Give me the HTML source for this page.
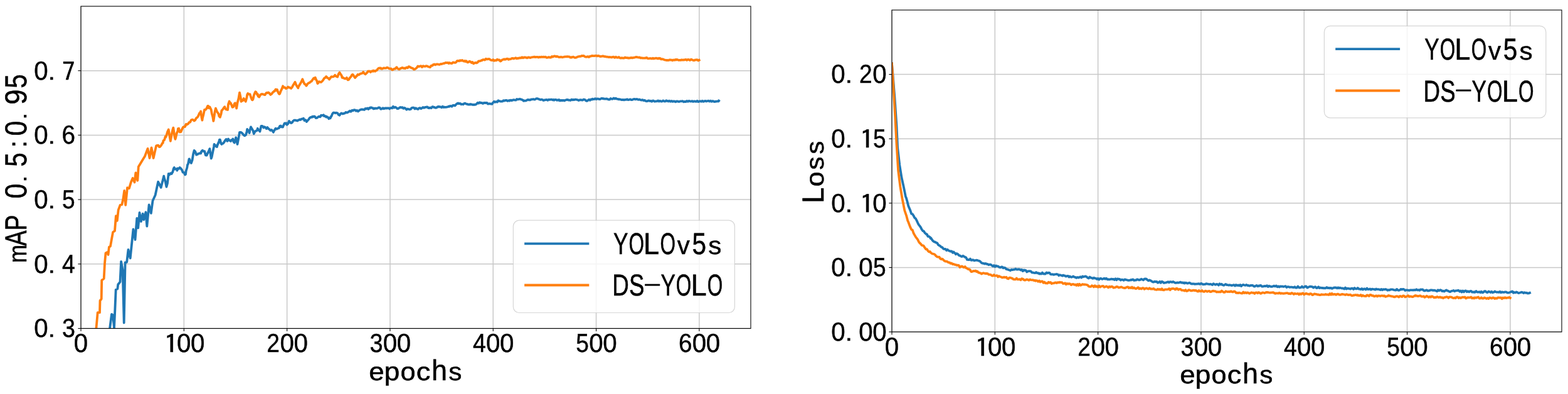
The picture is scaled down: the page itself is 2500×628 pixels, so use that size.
<!DOCTYPE html>
<html><head><meta charset="utf-8"><title>mAP and Loss curves</title>
<style>
html,body{margin:0;padding:0;background:#fff;}
body{width:2500px;height:628px;overflow:hidden;}
svg{display:block;}
.t text{font-family:"Liberation Sans","Noto Sans CJK SC",sans-serif;fill:#000;stroke:#000;text-rendering:geometricPrecision;}
</style></head><body>
<svg width="2500" height="628" viewBox="0 0 2500 628">
<rect x="0" y="0" width="2500" height="628" fill="#fff"/>
<defs><clipPath id="c1"><rect x="129.00" y="10.00" width="1068.00" height="513.50"/></clipPath><clipPath id="c2"><rect x="1422.00" y="16.00" width="1068.00" height="513.00"/></clipPath></defs><line x1="129.00" y1="10.00" x2="129.00" y2="523.50" stroke="#c8c8c8" stroke-width="1.50"/><line x1="293.31" y1="10.00" x2="293.31" y2="523.50" stroke="#c8c8c8" stroke-width="1.50"/><line x1="457.62" y1="10.00" x2="457.62" y2="523.50" stroke="#c8c8c8" stroke-width="1.50"/><line x1="621.92" y1="10.00" x2="621.92" y2="523.50" stroke="#c8c8c8" stroke-width="1.50"/><line x1="786.23" y1="10.00" x2="786.23" y2="523.50" stroke="#c8c8c8" stroke-width="1.50"/><line x1="950.54" y1="10.00" x2="950.54" y2="523.50" stroke="#c8c8c8" stroke-width="1.50"/><line x1="1114.85" y1="10.00" x2="1114.85" y2="523.50" stroke="#c8c8c8" stroke-width="1.50"/><line x1="129.00" y1="523.50" x2="1197.00" y2="523.50" stroke="#c8c8c8" stroke-width="1.50"/><line x1="129.00" y1="420.80" x2="1197.00" y2="420.80" stroke="#c8c8c8" stroke-width="1.50"/><line x1="129.00" y1="318.10" x2="1197.00" y2="318.10" stroke="#c8c8c8" stroke-width="1.50"/><line x1="129.00" y1="215.40" x2="1197.00" y2="215.40" stroke="#c8c8c8" stroke-width="1.50"/><line x1="129.00" y1="112.70" x2="1197.00" y2="112.70" stroke="#c8c8c8" stroke-width="1.50"/><line x1="1422.00" y1="16.00" x2="1422.00" y2="529.00" stroke="#c8c8c8" stroke-width="1.50"/><line x1="1586.31" y1="16.00" x2="1586.31" y2="529.00" stroke="#c8c8c8" stroke-width="1.50"/><line x1="1750.62" y1="16.00" x2="1750.62" y2="529.00" stroke="#c8c8c8" stroke-width="1.50"/><line x1="1914.92" y1="16.00" x2="1914.92" y2="529.00" stroke="#c8c8c8" stroke-width="1.50"/><line x1="2079.23" y1="16.00" x2="2079.23" y2="529.00" stroke="#c8c8c8" stroke-width="1.50"/><line x1="2243.54" y1="16.00" x2="2243.54" y2="529.00" stroke="#c8c8c8" stroke-width="1.50"/><line x1="2407.85" y1="16.00" x2="2407.85" y2="529.00" stroke="#c8c8c8" stroke-width="1.50"/><line x1="1422.00" y1="529.00" x2="2490.00" y2="529.00" stroke="#c8c8c8" stroke-width="1.50"/><line x1="1422.00" y1="426.40" x2="2490.00" y2="426.40" stroke="#c8c8c8" stroke-width="1.50"/><line x1="1422.00" y1="323.80" x2="2490.00" y2="323.80" stroke="#c8c8c8" stroke-width="1.50"/><line x1="1422.00" y1="221.20" x2="2490.00" y2="221.20" stroke="#c8c8c8" stroke-width="1.50"/><line x1="1422.00" y1="118.60" x2="2490.00" y2="118.60" stroke="#c8c8c8" stroke-width="1.50"/><path d="M173.5 540.0 L175.2 522.6 L178.0 500.9 L180.0 502.3 L182.0 522.6 L183.4 492.8 L184.7 461.6 L187.4 460.3 L188.2 453.5 L191.5 449.4 L193.1 416.9 L195.6 430.5 L197.7 514.5 L199.6 418.3 L202.2 417.8 L204.5 398.0 L207.7 411.5 L212.5 365.3 L215.5 382.0 L218.3 348.0 L220.2 363.3 L222.5 339.0 L224.9 353.0 L227.6 340.7 L229.2 350.2 L232.4 338.3 L234.3 360.6 L237.6 326.4 L240.8 339.9 L243.5 320.0 L247.6 311.0 L252.1 289.8 L256.7 298.9 L261.2 280.7 L262.1 284.7 L263.7 289.4 L265.4 297.7 L267.0 291.9 L268.7 277.0 L270.3 278.4 L271.9 276.2 L273.6 277.0 L274.8 274.7 L275.2 274.5 L276.9 268.3 L277.8 267.1 L278.5 269.6 L280.2 269.4 L281.8 269.0 L282.4 271.7 L283.4 268.4 L285.1 268.9 L286.7 267.1 L288.4 268.7 L290.0 270.7 L291.5 274.7 L293.3 275.1 L295.0 278.5 L296.0 277.7 L296.6 272.5 L298.2 267.5 L299.0 262.6 L299.9 261.4 L301.5 253.3 L302.0 253.5 L303.2 257.7 L304.8 260.0 L306.5 255.4 L308.1 245.6 L309.6 239.9 L311.4 241.8 L313.0 246.7 L314.1 246.0 L314.7 246.2 L316.3 244.8 L318.0 244.7 L319.6 243.6 L320.2 244.4 L321.2 241.3 L322.9 239.7 L324.5 241.2 L326.2 241.2 L327.8 247.3 L329.5 247.6 L331.1 244.2 L332.7 241.1 L334.3 237.1 L336.0 247.7 L336.7 252.6 L337.7 250.0 L339.3 241.9 L341.0 233.8 L341.5 229.9 L342.6 231.0 L344.2 233.1 L345.9 234.0 L346.3 232.3 L347.5 229.2 L349.2 225.6 L349.9 222.7 L350.8 222.6 L352.5 229.0 L353.4 229.9 L354.1 229.0 L355.7 228.7 L357.4 226.5 L358.2 225.1 L359.0 223.7 L360.7 221.9 L362.3 224.9 L363.0 222.7 L364.0 221.5 L365.6 223.9 L367.2 224.1 L367.8 225.1 L368.9 223.1 L370.5 223.4 L371.4 221.5 L372.2 225.5 L373.8 227.5 L375.5 222.1 L376.1 219.1 L377.1 222.7 L378.5 229.9 L380.4 220.0 L382.0 210.9 L383.7 210.9 L385.3 211.5 L386.9 213.2 L388.6 215.4 L390.2 216.3 L391.9 215.1 L393.5 210.1 L394.1 206.0 L395.2 207.6 L396.8 209.1 L397.6 212.0 L398.5 207.2 L400.0 202.4 L401.8 205.6 L403.4 208.2 L404.8 213.2 L406.7 209.5 L408.3 208.6 L410.0 207.7 L410.8 204.8 L411.6 207.0 L413.3 207.7 L414.4 209.6 L414.9 207.2 L416.5 200.8 L418.2 200.9 L419.8 202.4 L420.3 203.6 L421.5 202.2 L423.1 202.9 L424.8 205.1 L426.4 203.1 L428.0 205.1 L429.7 206.3 L431.3 207.9 L432.3 207.2 L433.0 207.0 L434.6 208.8 L435.9 210.8 L436.3 209.4 L437.9 207.1 L439.4 204.8 L441.2 205.7 L442.8 204.8 L444.5 204.3 L446.1 201.0 L446.6 202.4 L447.8 200.6 L449.4 202.4 L451.0 202.6 L451.4 201.2 L452.7 198.5 L453.8 196.4 L454.3 197.0 L456.0 196.2 L457.4 198.8 L459.3 197.0 L460.9 192.9 L462.5 194.9 L464.2 196.1 L465.7 195.3 L467.5 192.7 L469.1 191.6 L470.5 191.7 L472.4 192.0 L474.0 192.5 L475.7 191.5 L477.3 191.0 L477.7 190.5 L479.0 191.0 L480.6 189.6 L482.3 189.5 L483.9 188.7 L485.5 192.1 L487.2 191.3 L488.4 192.9 L488.8 194.0 L490.5 192.0 L492.0 190.5 L493.8 187.9 L495.4 187.0 L497.0 186.9 L498.0 185.7 L498.7 186.6 L500.3 185.4 L502.0 185.9 L503.6 188.1 L505.3 187.9 L506.9 186.7 L508.6 185.7 L510.2 186.3 L511.1 185.7 L511.8 183.8 L513.5 183.9 L515.1 183.6 L515.9 183.3 L516.8 185.2 L518.4 185.0 L520.1 186.6 L520.7 185.7 L521.7 186.6 L523.3 187.5 L524.3 189.3 L525.0 187.8 L526.6 188.4 L527.8 185.7 L528.3 185.6 L529.9 181.6 L531.4 179.7 L533.2 179.7 L534.8 180.3 L536.2 179.7 L538.1 180.3 L539.8 182.9 L541.4 183.7 L543.1 181.3 L544.7 180.5 L546.3 181.5 L548.0 180.9 L549.6 180.7 L550.7 179.7 L551.3 178.9 L552.9 179.6 L554.6 179.0 L556.2 177.9 L556.9 177.7 L557.8 176.7 L559.5 177.9 L561.1 175.9 L562.8 176.4 L564.4 175.2 L566.1 175.3 L567.7 176.7 L569.3 175.9 L571.0 177.5 L571.4 176.6 L572.6 176.2 L574.3 175.0 L575.9 174.5 L577.6 174.4 L579.2 174.7 L580.8 175.0 L582.5 173.0 L583.8 173.5 L585.8 172.5 L587.4 174.0 L589.1 171.9 L590.0 172.5 L590.7 171.5 L592.3 171.5 L594.0 172.3 L595.6 173.4 L596.3 172.5 L597.3 173.2 L598.9 172.5 L600.6 172.8 L602.2 172.4 L603.8 171.5 L605.5 171.7 L607.1 173.9 L608.7 173.5 L610.4 172.2 L612.1 173.3 L613.7 172.4 L614.9 172.5 L615.4 172.3 L617.0 172.5 L618.6 172.4 L620.3 172.3 L621.1 173.5 L621.9 172.6 L623.6 171.9 L625.2 172.4 L626.9 169.8 L627.3 170.4 L628.5 171.8 L630.1 170.7 L631.8 171.6 L633.4 173.2 L635.1 173.0 L636.7 171.9 L638.4 170.9 L640.0 171.6 L641.6 171.1 L643.3 172.9 L644.9 171.9 L646.6 172.9 L648.2 174.7 L649.9 173.5 L651.5 174.0 L653.1 174.5 L654.8 174.0 L656.4 172.0 L658.1 171.6 L659.7 171.6 L661.4 173.6 L663.0 172.3 L664.6 173.5 L666.3 174.0 L667.9 172.5 L669.6 172.0 L671.2 173.2 L672.9 172.1 L674.5 171.0 L674.9 171.4 L676.1 171.9 L677.8 171.0 L679.4 170.9 L681.1 170.3 L682.7 172.0 L683.2 171.4 L684.4 172.3 L686.0 171.6 L687.6 172.2 L689.3 170.1 L690.9 170.4 L691.5 171.0 L692.6 170.9 L694.2 171.8 L695.9 171.7 L697.5 170.3 L699.1 169.9 L699.8 170.4 L700.8 170.2 L702.4 170.4 L704.1 171.3 L705.7 169.7 L707.4 171.1 L708.0 170.4 L709.0 170.9 L710.6 170.9 L712.3 170.7 L713.9 170.2 L715.6 169.5 L716.3 169.8 L717.2 169.2 L718.9 169.0 L720.5 169.7 L722.2 167.8 L723.8 167.8 L724.6 168.3 L725.4 168.4 L727.1 166.5 L728.7 165.3 L730.4 164.4 L730.8 165.2 L732.0 165.3 L733.7 164.8 L735.3 166.3 L736.9 166.0 L738.6 166.4 L740.2 164.9 L741.9 164.7 L743.3 165.7 L745.2 166.0 L746.8 166.7 L748.4 166.3 L749.5 166.6 L750.1 166.0 L751.7 166.4 L753.4 166.9 L755.0 167.0 L756.2 166.6 L756.7 167.0 L758.3 166.6 L759.9 165.6 L761.6 163.8 L763.2 164.7 L764.5 163.5 L764.9 163.1 L766.5 164.0 L768.2 163.9 L769.8 165.0 L770.7 164.6 L771.4 163.9 L773.1 164.0 L774.7 164.0 L776.4 163.8 L776.9 164.6 L778.0 165.7 L779.7 165.4 L781.3 165.2 L782.9 165.7 L784.6 165.8 L786.2 163.4 L787.3 162.5 L787.9 161.8 L789.5 162.8 L791.2 162.1 L792.8 162.6 L794.4 160.3 L795.5 161.0 L796.1 160.9 L797.7 161.6 L799.4 161.7 L801.0 161.5 L802.7 160.1 L803.8 160.8 L804.3 160.4 L805.9 160.0 L807.6 159.9 L809.2 161.0 L810.9 160.3 L812.1 160.0 L812.5 160.7 L814.2 159.6 L815.8 160.3 L817.4 159.5 L819.1 159.1 L820.4 159.4 L822.4 159.7 L824.0 158.0 L825.7 158.5 L827.3 158.2 L828.7 157.7 L830.6 158.4 L832.2 158.9 L833.9 159.8 L834.9 160.8 L835.5 160.3 L837.2 160.6 L838.8 160.4 L840.5 159.4 L842.1 158.8 L843.2 159.4 L843.7 159.1 L845.4 159.4 L847.0 158.4 L848.7 158.4 L850.3 158.0 L851.4 158.3 L852.0 158.7 L853.6 158.2 L855.2 157.2 L856.9 157.1 L857.7 157.7 L858.5 157.7 L860.2 158.4 L861.8 159.0 L863.5 158.5 L865.1 159.0 L866.0 159.8 L866.7 160.0 L868.4 159.4 L870.0 159.1 L871.7 158.9 L873.3 159.8 L874.2 159.0 L875.0 158.7 L876.6 159.0 L878.2 158.7 L879.9 158.7 L881.5 159.4 L882.5 158.8 L883.2 159.7 L884.8 158.9 L886.5 158.8 L888.1 159.8 L889.7 159.2 L890.8 159.8 L891.4 159.0 L893.0 160.5 L894.7 159.8 L896.3 160.4 L898.0 159.8 L899.1 160.0 L899.6 160.6 L901.2 159.8 L902.9 159.2 L904.5 158.8 L906.2 159.6 L907.3 159.4 L907.8 159.6 L909.5 160.0 L911.1 158.6 L912.7 159.3 L914.4 158.9 L915.6 159.0 L916.0 159.0 L917.7 158.5 L919.3 158.8 L921.0 159.3 L922.6 160.0 L923.9 159.4 L925.9 159.2 L927.5 159.5 L929.2 159.6 L930.1 158.8 L930.8 158.5 L932.5 158.8 L934.1 160.5 L935.8 161.0 L936.3 160.4 L937.4 160.0 L939.0 158.8 L940.7 159.7 L942.3 158.3 L944.0 158.6 L944.6 157.7 L945.6 157.9 L947.3 158.2 L948.9 157.2 L950.5 158.2 L952.2 157.3 L952.9 157.7 L953.8 157.5 L955.5 158.1 L957.1 158.0 L958.8 156.9 L960.4 156.9 L961.2 157.3 L962.0 157.2 L963.7 157.6 L965.3 157.6 L967.0 157.4 L968.6 157.8 L969.5 158.3 L970.3 158.6 L971.9 158.6 L973.5 157.0 L975.2 157.7 L976.8 157.8 L978.5 156.4 L980.1 157.5 L981.8 156.6 L983.4 157.7 L985.0 157.9 L986.7 158.4 L988.3 158.2 L990.0 158.7 L990.7 159.0 L991.6 159.1 L993.3 158.9 L994.9 159.3 L996.5 158.9 L998.2 158.9 L999.8 158.2 L1001.0 159.0 L1001.5 159.2 L1003.1 158.8 L1004.8 158.3 L1006.4 159.1 L1008.0 159.0 L1009.7 158.3 L1011.3 157.8 L1013.0 158.4 L1014.6 158.0 L1016.3 158.2 L1017.9 158.9 L1019.5 158.5 L1021.2 159.2 L1021.8 159.4 L1022.8 159.6 L1024.5 159.1 L1026.1 160.3 L1027.8 159.7 L1029.4 161.0 L1031.0 161.3 L1032.1 161.0 L1032.7 161.0 L1034.3 160.3 L1036.0 161.0 L1037.6 160.8 L1039.3 161.7 L1040.9 160.4 L1042.5 161.0 L1044.2 161.8 L1045.8 161.3 L1047.5 161.4 L1049.1 160.4 L1050.8 161.6 L1052.4 160.8 L1052.8 160.8 L1054.1 161.6 L1055.7 161.5 L1057.3 160.4 L1059.0 161.4 L1060.6 161.6 L1062.3 160.3 L1063.2 161.0 L1063.9 160.8 L1065.6 161.5 L1067.2 160.6 L1068.8 161.9 L1070.5 160.9 L1072.1 161.9 L1073.5 161.4 L1075.4 161.5 L1077.1 162.3 L1078.7 161.3 L1080.3 161.5 L1082.0 162.0 L1083.6 161.8 L1085.3 161.3 L1086.9 161.4 L1088.6 161.2 L1090.2 162.4 L1091.8 161.8 L1093.5 162.1 L1094.2 161.4 L1095.1 160.9 L1096.8 161.9 L1098.4 160.8 L1100.1 161.4 L1101.7 161.6 L1103.3 161.2 L1104.6 161.4 L1105.0 162.0 L1106.6 161.5 L1108.3 161.5 L1109.9 162.0 L1111.6 160.8 L1113.2 162.2 L1114.8 161.6 L1116.5 161.2 L1118.1 161.8 L1119.8 160.8 L1121.4 161.9 L1123.1 161.2 L1124.7 160.8 L1125.3 161.0 L1126.3 161.5 L1128.0 161.0 L1129.6 160.7 L1131.3 161.6 L1132.9 160.6 L1134.6 161.9 L1135.6 161.4 L1136.2 161.0 L1137.8 161.6 L1139.5 162.2 L1141.1 161.6 L1142.8 161.7 L1144.4 161.2 L1145.5 161.5 L1146.1 160.7" fill="none" stroke="#1f77b4" stroke-width="3.8" stroke-linejoin="round" stroke-linecap="square" clip-path="url(#c1)"/><path d="M152.5 540.0 L153.5 522.6 L155.7 498.2 L159.0 498.2 L159.5 479.2 L161.7 476.5 L162.2 446.7 L165.7 444.0 L167.0 419.6 L168.5 403.4 L171.2 402.0 L172.5 406.0 L173.9 393.9 L176.0 392.5 L178.2 380.1 L180.1 370.0 L183.0 368.0 L184.9 344.1 L186.8 351.8 L188.7 334.6 L191.6 326.9 L194.4 326.0 L196.3 317.4 L198.2 304.0 L200.2 326.9 L203.0 299.2 L205.9 300.2 L208.8 290.6 L211.6 283.9 L214.5 290.6 L216.4 275.3 L219.3 287.7 L220.8 265.7 L223.1 261.9 L226.4 256.5 L231.0 249.0 L235.5 236.9 L238.5 252.0 L241.5 235.4 L244.6 252.0 L249.1 232.3 L250.6 231.9 L252.2 231.6 L253.9 234.2 L255.2 233.9 L257.2 231.4 L258.8 228.4 L259.7 227.8 L260.4 224.3 L262.1 223.0 L263.7 217.6 L264.2 218.7 L265.4 215.7 L267.0 210.3 L268.7 206.6 L270.3 216.1 L271.8 224.8 L273.6 214.7 L275.2 207.4 L276.3 203.6 L276.9 207.5 L278.5 218.6 L279.4 221.8 L280.2 219.3 L281.8 212.4 L283.4 208.9 L283.9 205.1 L285.1 204.7 L286.7 210.5 L288.4 210.2 L290.0 206.4 L291.7 203.1 L293.0 202.1 L295.0 202.0 L296.6 198.0 L298.2 198.5 L299.0 197.6 L299.9 197.5 L301.5 195.1 L303.2 194.7 L304.8 191.3 L306.5 190.7 L308.1 191.0 L309.7 192.6 L311.1 191.5 L313.0 188.1 L314.7 187.1 L316.0 185.0 L318.0 180.4 L319.6 179.4 L320.0 177.3 L321.2 185.6 L322.4 191.7 L322.9 188.3 L324.5 182.2 L326.0 175.0 L327.8 174.8 L329.5 172.6 L331.1 169.0 L332.0 169.0 L332.7 172.1 L334.4 170.4 L336.0 173.8 L336.7 175.0 L337.7 181.0 L339.3 186.5 L340.3 192.9 L341.0 189.1 L342.6 177.9 L343.9 172.6 L345.9 177.7 L347.5 180.1 L348.7 182.1 L349.2 185.0 L350.8 186.8 L352.5 181.7 L353.4 176.1 L354.1 175.7 L355.7 173.6 L357.4 171.0 L358.2 170.2 L359.0 172.5 L360.7 174.6 L362.3 174.2 L363.0 175.0 L364.0 166.1 L365.6 161.5 L367.2 164.9 L367.8 164.2 L368.9 166.7 L370.5 170.9 L371.4 170.2 L372.2 170.3 L373.8 165.2 L375.0 164.2 L375.5 165.4 L377.1 172.6 L378.7 163.3 L380.4 157.0 L382.0 147.6 L383.7 155.6 L384.5 161.8 L385.3 159.0 L387.0 160.5 L388.1 158.2 L388.6 157.1 L390.2 159.2 L391.7 161.8 L393.5 155.3 L394.1 151.1 L395.2 149.0 L396.8 150.2 L398.5 150.2 L400.1 155.0 L401.8 159.1 L402.4 159.4 L403.4 158.3 L405.0 151.2 L406.7 147.3 L407.2 146.3 L408.3 146.8 L410.0 150.8 L410.8 149.9 L411.6 153.5 L413.2 154.6 L414.9 151.5 L416.5 150.1 L417.9 149.9 L419.8 150.3 L421.5 151.1 L422.7 151.1 L423.1 150.0 L424.8 148.0 L426.4 148.1 L427.5 147.5 L428.0 147.4 L429.7 148.8 L431.3 150.9 L432.3 149.9 L433.0 149.8 L434.6 147.6 L436.3 146.3 L437.1 145.1 L437.9 145.3 L439.5 142.4 L441.2 144.3 L441.8 142.7 L442.8 145.7 L444.5 149.2 L445.4 149.9 L446.1 149.4 L447.8 144.8 L449.4 141.6 L451.0 137.3 L451.4 137.9 L452.7 139.6 L454.3 139.4 L456.0 141.1 L457.6 140.4 L459.3 138.6 L459.8 139.1 L460.9 139.4 L462.5 139.8 L464.2 140.9 L465.8 138.9 L467.5 135.5 L469.1 133.1 L470.5 130.8 L472.4 135.8 L474.0 138.2 L475.3 140.3 L475.7 138.5 L477.3 135.8 L479.0 133.0 L480.6 130.1 L482.3 126.2 L483.9 130.7 L485.5 133.8 L487.2 134.7 L488.4 136.7 L488.8 136.3 L490.5 133.6 L492.1 132.3 L493.8 131.7 L495.4 130.0 L496.8 129.6 L498.7 126.6 L500.3 124.5 L502.0 125.8 L502.7 123.6 L503.6 126.1 L505.3 129.2 L506.3 133.1 L506.9 132.8 L508.6 130.1 L510.2 130.6 L511.8 131.0 L513.5 129.6 L515.1 127.7 L516.8 124.9 L518.4 123.9 L520.1 121.9 L520.7 122.4 L521.7 124.0 L523.3 124.5 L525.0 126.6 L525.4 126.0 L526.6 124.2 L528.3 122.2 L529.9 122.5 L531.6 122.2 L533.2 121.2 L534.1 119.7 L534.8 121.0 L536.5 121.9 L538.1 122.5 L539.8 117.9 L541.4 115.5 L543.1 118.4 L544.7 120.7 L545.5 123.8 L546.3 123.2 L548.0 124.6 L549.6 125.3 L551.3 125.3 L552.8 123.8 L554.6 127.4 L556.2 126.7 L557.8 124.1 L559.5 122.3 L561.1 119.4 L562.1 118.7 L562.8 119.1 L564.4 121.6 L566.1 124.0 L567.7 122.0 L569.3 120.5 L570.4 118.7 L571.0 119.4 L572.6 118.9 L574.3 117.6 L575.9 117.2 L577.6 116.7 L578.7 115.5 L579.2 114.8 L580.8 117.0 L582.5 118.3 L584.1 116.9 L585.8 115.2 L586.9 113.5 L587.4 113.6 L589.1 113.3 L590.7 115.0 L591.1 114.5 L592.3 113.5 L594.0 113.7 L595.2 112.4 L595.6 113.6 L597.3 112.9 L598.3 113.5 L598.9 112.7 L600.6 112.2 L602.2 110.1 L603.8 108.6 L605.5 108.5 L606.6 109.3 L607.1 108.4 L608.8 109.8 L610.4 109.2 L611.8 108.3 L613.7 108.7 L615.4 108.7 L617.0 107.6 L618.6 108.0 L620.3 109.4 L621.9 109.5 L623.6 109.3 L625.2 111.4 L626.9 110.7 L627.3 110.4 L628.5 109.7 L630.1 109.7 L631.8 107.6 L632.5 107.3 L633.4 108.8 L635.1 110.0 L636.6 110.4 L638.4 109.1 L640.0 108.6 L641.6 107.8 L643.3 108.9 L644.9 108.5 L645.9 109.3 L646.6 108.8 L648.2 107.4 L649.9 108.3 L651.5 106.2 L652.2 106.2 L653.1 106.6 L654.8 107.7 L656.3 108.3 L658.1 108.8 L659.7 110.6 L661.4 110.3 L663.0 109.2 L664.6 107.9 L666.3 105.4 L667.9 106.1 L669.6 105.5 L671.2 105.1 L672.9 106.9 L674.5 105.2 L676.1 105.6 L677.8 105.9 L679.1 105.2 L681.1 105.4 L682.7 106.2 L684.4 106.8 L685.3 106.9 L686.0 107.1 L687.6 104.6 L689.3 104.6 L690.9 102.9 L691.5 103.1 L692.6 102.4 L694.2 103.3 L695.9 102.4 L697.5 102.3 L699.1 102.7 L700.8 103.0 L702.4 102.0 L703.9 102.1 L705.7 101.5 L707.4 101.0 L709.0 100.8 L710.1 100.0 L710.6 99.9 L712.3 100.1 L713.9 100.0 L715.6 101.0 L716.3 100.0 L717.2 100.4 L718.9 100.8 L720.5 101.0 L722.2 99.5 L723.8 99.7 L725.4 100.0 L727.1 99.3 L728.7 97.2 L730.4 96.9 L732.0 97.3 L733.7 96.2 L735.0 96.9 L736.9 96.0 L738.6 97.3 L740.2 97.5 L741.2 96.9 L741.9 98.1 L743.5 97.3 L745.2 99.4 L746.8 99.1 L748.4 97.7 L750.0 98.3 L751.7 100.0 L753.4 99.0 L755.0 101.3 L756.2 100.8 L756.7 100.4 L758.3 99.9 L759.9 100.4 L761.6 99.4 L762.4 98.3 L763.2 97.3 L764.9 97.3 L766.5 96.9 L768.2 96.0 L768.6 96.2 L769.8 95.2 L771.4 95.1 L773.1 95.6 L774.7 93.7 L776.4 94.4 L776.9 94.2 L778.0 94.3 L779.7 93.8 L781.3 94.9 L782.9 95.9 L784.6 96.1 L785.2 96.2 L786.2 95.1 L787.9 96.8 L789.5 96.1 L791.2 96.3 L792.8 94.7 L794.4 95.6 L796.1 95.5 L797.7 97.6 L798.7 97.3 L799.4 96.4 L801.0 95.3 L802.7 94.8 L803.8 94.2 L804.3 94.9 L805.9 94.7 L807.6 93.8 L809.2 93.6 L810.9 94.9 L812.1 94.2 L812.5 94.3 L814.2 94.2 L815.8 93.1 L817.4 92.8 L819.1 93.6 L820.4 93.1 L822.4 92.2 L824.0 93.4 L825.7 92.7 L827.3 92.8 L828.7 92.1 L830.6 92.5 L832.2 91.2 L833.9 92.3 L835.5 91.5 L837.0 91.5 L838.8 91.7 L840.5 92.4 L842.1 91.5 L843.7 91.4 L845.2 92.1 L847.0 91.5 L848.7 91.1 L850.3 90.9 L852.0 90.6 L853.5 91.1 L855.2 90.8 L856.9 90.8 L858.5 91.5 L860.2 90.8 L861.8 91.1 L863.5 90.7 L865.1 91.0 L866.7 90.6 L868.4 91.0 L870.0 90.7 L871.7 91.9 L873.3 91.6 L875.0 91.0 L876.3 91.5 L878.2 91.7 L879.9 90.0 L881.5 90.7 L883.2 89.7 L884.6 89.4 L886.5 90.3 L888.1 89.9 L889.7 90.5 L891.4 91.1 L892.9 91.1 L894.7 90.7 L896.3 91.3 L898.0 91.0 L899.6 90.7 L901.1 90.4 L902.9 90.3 L904.5 90.1 L906.2 90.3 L907.8 90.4 L909.5 91.7 L911.1 91.1 L911.5 91.5 L912.7 90.9 L914.4 90.7 L916.0 91.8 L917.7 91.8 L919.3 91.4 L919.8 91.1 L921.0 90.5 L922.6 90.1 L924.2 89.9 L925.9 89.8 L927.5 89.0 L929.2 89.1 L930.1 89.0 L930.8 88.8 L932.5 90.3 L934.1 90.8 L935.8 90.5 L936.3 90.6 L937.4 90.1 L939.0 91.0 L940.7 89.7 L942.3 89.6 L944.0 88.8 L945.6 89.2 L947.3 89.2 L948.8 89.0 L950.5 88.7 L952.2 89.4 L953.8 88.8 L955.5 89.4 L957.0 90.0 L958.8 89.9 L960.4 89.5 L962.0 89.5 L963.7 90.1 L965.3 90.1 L967.0 90.7 L967.4 90.6 L968.6 90.7 L970.3 91.1 L971.9 91.0 L973.5 91.2 L975.2 91.5 L976.8 90.8 L978.5 90.7 L980.1 91.9 L981.8 90.7 L983.4 91.7 L985.0 91.8 L986.7 91.0 L988.3 92.4 L990.0 92.7 L990.7 92.1 L991.6 92.3 L993.3 92.5 L994.9 92.6 L996.5 91.5 L998.2 92.1 L999.8 92.1 L1001.0 92.1 L1001.5 92.6 L1003.1 92.5 L1004.8 92.4 L1006.4 91.9 L1008.0 92.3 L1009.7 91.9 L1011.3 91.8 L1013.0 91.2 L1014.6 90.9 L1016.3 91.2 L1017.9 91.7 L1019.5 91.3 L1021.2 92.6 L1021.8 92.1 L1022.8 92.3 L1024.5 92.5 L1026.1 92.6 L1027.8 92.7 L1029.4 92.5 L1031.0 91.8 L1032.1 92.7 L1032.7 93.2 L1034.3 93.3 L1036.0 93.0 L1037.6 93.2 L1039.3 93.5 L1040.9 92.7 L1042.5 93.5 L1044.2 93.0 L1045.8 92.7 L1047.5 92.9 L1049.1 93.6 L1050.8 92.7 L1052.4 93.5 L1052.8 93.1 L1054.1 94.3 L1055.7 94.1 L1057.3 94.4 L1059.0 95.2 L1060.6 95.7 L1062.3 96.0 L1063.9 96.0 L1065.6 96.2 L1067.2 95.5 L1068.8 95.5 L1070.5 95.6 L1072.1 96.3 L1073.8 95.5 L1075.4 95.8 L1077.1 94.9 L1077.7 95.6 L1078.7 94.9 L1080.3 95.2 L1082.0 95.9 L1083.6 95.9 L1085.3 95.9 L1086.9 95.3 L1088.0 95.6 L1088.6 95.6 L1090.2 95.5 L1091.8 95.4 L1093.5 94.8 L1095.1 96.0 L1096.8 94.8 L1098.4 95.2 L1100.1 96.0 L1101.7 94.6 L1103.3 95.3 L1105.0 96.0 L1106.6 96.3 L1108.3 95.5 L1108.7 95.6 L1109.9 95.3 L1111.6 95.2 L1113.2 96.5 L1114.7 95.8" fill="none" stroke="#ff7f0e" stroke-width="3.8" stroke-linejoin="round" stroke-linecap="square" clip-path="url(#c1)"/><path d="M1422.0 101.3 L1423.0 113.0 L1426.4 154.8 L1429.5 200.6 L1431.1 235.0 L1434.3 263.0 L1437.5 283.0 L1440.7 297.3 L1443.9 313.2 L1445.0 315.8 L1446.6 321.6 L1448.3 328.3 L1449.9 332.0 L1451.6 336.1 L1453.2 340.8 L1454.9 341.3 L1456.5 343.7 L1458.1 346.9 L1459.8 348.2 L1461.4 351.1 L1463.1 354.8 L1464.6 357.8 L1466.4 360.1 L1468.0 362.3 L1469.6 365.6 L1470.9 367.3 L1471.3 367.9 L1472.9 368.6 L1474.6 371.3 L1476.2 372.6 L1477.3 373.7 L1477.9 373.4 L1479.5 376.9 L1481.2 376.9 L1482.8 378.3 L1483.7 380.0 L1484.4 379.6 L1486.1 382.3 L1487.7 384.2 L1489.4 385.3 L1491.0 385.7 L1491.6 386.4 L1492.7 386.7 L1494.3 387.4 L1495.9 390.2 L1497.6 391.3 L1499.2 392.1 L1499.6 392.8 L1500.9 393.9 L1502.5 394.4 L1504.2 396.6 L1505.8 397.0 L1507.4 396.9 L1509.1 399.1 L1510.7 397.7 L1512.4 399.5 L1514.0 399.9 L1515.5 400.7 L1517.3 400.4 L1518.9 402.8 L1520.6 401.6 L1522.2 403.5 L1523.4 403.9 L1523.9 405.2 L1525.5 404.1 L1527.2 405.1 L1528.8 406.9 L1530.4 407.5 L1531.4 408.0 L1532.1 408.4 L1533.7 409.1 L1535.4 407.8 L1536.4 408.7 L1537.0 408.7 L1538.7 409.9 L1540.3 410.5 L1541.9 413.8 L1542.7 413.4 L1543.6 414.2 L1545.2 414.2 L1546.9 412.6 L1548.5 414.8 L1550.2 414.7 L1550.7 414.2 L1551.8 414.3 L1553.4 415.3 L1555.1 415.0 L1556.7 414.7 L1558.4 414.8 L1560.0 415.7 L1561.7 415.9 L1563.3 417.3 L1564.9 419.0 L1566.6 419.6 L1568.2 419.8 L1569.9 420.6 L1571.5 419.9 L1573.2 420.9 L1574.8 421.0 L1576.4 422.1 L1577.8 421.7 L1579.7 421.7 L1581.4 423.1 L1583.0 424.4 L1584.7 423.1 L1586.3 425.2 L1587.3 424.6 L1588.0 423.5 L1589.6 424.2 L1591.2 424.3 L1592.9 425.7 L1594.5 426.3 L1596.2 425.9 L1596.9 425.4 L1597.8 425.3 L1599.5 427.3 L1601.1 426.6 L1602.7 427.0 L1604.4 429.2 L1606.0 429.2 L1607.7 429.9 L1609.3 430.5 L1611.0 431.1 L1612.6 429.6 L1614.2 430.2 L1615.9 429.6 L1617.5 429.7 L1619.2 428.5 L1620.8 429.5 L1622.5 429.5 L1624.1 429.2 L1625.7 429.3 L1627.4 430.6 L1629.0 429.7 L1630.7 432.0 L1631.9 431.3 L1632.3 430.5 L1634.0 430.6 L1635.6 431.1 L1637.2 433.4 L1638.9 432.3 L1640.5 432.1 L1642.2 432.2 L1643.8 432.5 L1644.6 433.8 L1645.5 434.4 L1647.1 434.5 L1648.7 434.9 L1650.4 435.2 L1652.0 433.9 L1653.7 435.4 L1655.3 435.1 L1657.0 436.4 L1657.4 435.7 L1658.6 436.4 L1660.2 436.6 L1661.9 434.6 L1663.5 436.4 L1665.2 436.5 L1666.8 436.5 L1668.5 434.5 L1670.1 435.4 L1671.7 434.7 L1673.4 434.8 L1675.0 437.1 L1676.7 437.3 L1678.3 437.1 L1680.0 437.9 L1681.3 437.3 L1683.2 437.2 L1684.9 437.0 L1686.5 437.3 L1688.2 439.2 L1689.8 438.2 L1691.5 438.8 L1693.1 439.3 L1694.0 439.7 L1694.8 438.6 L1696.4 439.3 L1698.0 439.5 L1699.7 440.6 L1701.3 439.9 L1703.0 439.9 L1704.6 441.6 L1705.2 440.5 L1706.3 440.7 L1707.9 441.8 L1709.5 441.5 L1711.2 440.4 L1712.8 441.6 L1714.5 441.9 L1716.1 443.0 L1717.8 441.9 L1719.4 442.6 L1721.0 442.0 L1722.7 441.1 L1724.3 442.5 L1726.0 440.5 L1727.5 441.3 L1729.3 440.7 L1730.9 440.5 L1732.5 441.2 L1734.2 442.8 L1735.8 443.5 L1737.5 441.4 L1739.1 442.7 L1740.2 442.9 L1740.8 443.0 L1742.4 443.9 L1744.0 442.7 L1745.7 443.7 L1747.3 443.6 L1749.0 445.0 L1750.6 443.8 L1751.3 444.5 L1752.3 445.6 L1753.9 444.0 L1755.5 443.8 L1757.2 445.0 L1758.8 444.5 L1760.5 443.6 L1762.1 444.8 L1762.5 444.5 L1763.8 443.6 L1765.4 445.3 L1767.0 445.2 L1768.7 445.5 L1770.3 445.2 L1772.0 444.6 L1773.6 445.0 L1775.3 444.8 L1776.9 446.1 L1778.5 444.2 L1780.2 446.3 L1781.8 444.3 L1783.5 444.8 L1785.1 445.0 L1786.8 446.6 L1788.4 445.7 L1790.0 445.8 L1791.7 446.8 L1793.3 445.3 L1795.0 445.9 L1796.6 446.2 L1798.3 446.8 L1799.9 446.8 L1801.6 446.6 L1803.2 446.0 L1804.0 446.4 L1804.8 445.9 L1806.5 445.4 L1808.1 447.0 L1809.8 446.5 L1811.4 446.6 L1813.1 445.2 L1814.7 445.7 L1816.3 446.4 L1818.0 445.9 L1819.6 444.7 L1821.3 445.4 L1822.9 446.4 L1824.6 444.7 L1826.2 444.5 L1827.8 444.7 L1829.5 446.3 L1831.1 447.4 L1832.8 446.5 L1834.4 447.2 L1836.1 448.1 L1837.6 449.4 L1839.3 449.5 L1841.0 448.7 L1842.6 449.1 L1844.3 448.8 L1845.9 450.7 L1847.6 450.2 L1849.2 448.7 L1850.8 450.8 L1852.5 448.8 L1854.1 449.5 L1855.8 451.0 L1857.4 450.6 L1859.1 450.4 L1860.7 449.8 L1862.3 449.2 L1864.0 450.3 L1865.6 449.1 L1867.3 449.4 L1868.9 449.9 L1870.6 449.0 L1872.2 450.0 L1873.8 450.9 L1875.5 450.8 L1877.1 450.3 L1878.8 450.7 L1880.4 450.3 L1882.1 449.6 L1883.7 450.7 L1885.3 450.3 L1887.0 451.2 L1888.0 450.6 L1888.6 451.6 L1890.3 450.6 L1891.9 451.1 L1893.6 451.7 L1895.2 451.0 L1896.8 450.7 L1898.5 452.0 L1900.1 452.5 L1901.8 452.4 L1903.4 452.4 L1905.1 452.9 L1906.7 452.6 L1908.4 452.6 L1910.0 452.3 L1911.6 452.1 L1912.0 452.6 L1913.3 452.9 L1914.9 451.7 L1916.6 452.5 L1918.2 453.4 L1919.9 453.2 L1921.5 453.1 L1923.1 452.2 L1924.8 452.6 L1926.4 452.7 L1928.1 453.2 L1929.7 452.7 L1931.4 453.3 L1933.0 454.0 L1934.6 452.2 L1936.0 453.0 L1937.9 453.8 L1939.6 452.9 L1941.2 453.2 L1942.9 454.5 L1944.5 452.3 L1946.1 453.6 L1947.8 452.8 L1949.4 454.3 L1951.1 454.8 L1952.7 453.9 L1954.4 453.0 L1956.0 454.2 L1957.6 454.2 L1959.3 454.7 L1960.0 454.2 L1960.9 454.3 L1962.6 454.6 L1964.2 455.1 L1965.9 454.4 L1967.5 454.2 L1969.1 455.6 L1970.8 453.9 L1972.4 455.1 L1974.1 454.4 L1975.7 455.4 L1977.4 453.9 L1979.0 456.0 L1980.6 454.5 L1982.3 453.9 L1983.9 454.5 L1985.6 454.8 L1987.2 453.9 L1988.9 455.0 L1990.5 455.0 L1992.1 455.7 L1993.8 455.0 L1995.4 454.8 L1997.1 454.8 L1998.7 456.1 L2000.4 456.6 L2002.0 455.7 L2003.6 455.0 L2005.3 456.4 L2006.9 455.5 L2008.0 455.8 L2008.6 455.1 L2010.2 454.9 L2011.9 456.5 L2013.5 456.6 L2015.2 456.2 L2016.8 455.9 L2018.4 456.1 L2020.1 455.3 L2021.7 457.1 L2023.4 455.7 L2025.0 456.4 L2026.7 456.9 L2028.3 456.9 L2029.9 456.1 L2031.6 455.7 L2032.0 456.2 L2033.2 456.4 L2034.9 455.5 L2036.5 457.3 L2038.2 456.3 L2039.8 457.6 L2041.4 456.3 L2043.1 456.6 L2044.7 456.5 L2046.4 457.0 L2048.0 456.5 L2049.7 456.2 L2051.3 458.0 L2052.9 457.1 L2054.6 457.1 L2056.0 457.8 L2057.9 457.7 L2059.5 457.6 L2061.2 458.0 L2062.8 458.1 L2064.4 457.3 L2066.1 458.7 L2067.7 458.5 L2069.4 456.5 L2071.0 458.3 L2072.7 458.5 L2074.3 458.2 L2075.9 456.6 L2077.6 458.2 L2079.2 457.7 L2080.0 457.4 L2080.9 456.3 L2082.5 456.3 L2084.2 458.6 L2085.8 458.0 L2087.4 457.0 L2089.1 456.7 L2090.7 456.9 L2092.4 457.2 L2094.0 458.5 L2095.7 457.5 L2097.3 457.1 L2098.9 459.0 L2100.6 458.8 L2101.2 458.1 L2102.2 457.3 L2103.9 459.1 L2105.5 458.5 L2107.2 459.0 L2108.8 458.8 L2110.4 459.4 L2112.1 459.2 L2113.7 459.4 L2115.4 457.9 L2117.0 459.2 L2118.7 458.8 L2120.3 459.4 L2122.0 458.8 L2123.6 459.9 L2125.2 459.2 L2126.9 458.5 L2128.5 458.5 L2130.2 458.3 L2131.8 459.3 L2132.4 459.3 L2133.5 458.3 L2135.1 459.3 L2136.7 458.6 L2138.4 459.4 L2140.0 459.5 L2141.7 459.6 L2143.3 460.5 L2145.0 458.4 L2146.6 460.5 L2148.2 459.6 L2149.9 459.9 L2151.5 460.2 L2153.2 460.6 L2154.8 459.6 L2156.5 459.7 L2158.1 461.1 L2159.7 459.0 L2161.4 460.4 L2163.0 460.4 L2163.6 460.1 L2164.7 459.0 L2166.3 460.5 L2168.0 460.7 L2169.6 461.3 L2171.2 460.0 L2172.9 461.6 L2174.5 460.5 L2176.2 460.5 L2177.8 461.6 L2179.5 459.5 L2181.1 461.2 L2182.7 461.1 L2184.4 460.4 L2186.0 461.8 L2187.7 460.6 L2189.3 460.9 L2191.0 461.1 L2192.6 461.8 L2194.2 460.5 L2194.8 461.2 L2195.9 461.1 L2197.5 461.1 L2199.2 461.4 L2200.8 462.1 L2202.5 460.9 L2204.1 462.2 L2205.7 461.2 L2207.4 461.5 L2209.0 461.0 L2210.7 461.6 L2212.3 462.8 L2214.0 462.1 L2215.6 462.4 L2217.2 461.4 L2218.9 461.4 L2220.5 461.4 L2222.2 462.1 L2223.8 462.3 L2225.5 462.7 L2226.0 462.0 L2227.1 460.9 L2228.8 462.5 L2230.4 462.9 L2232.0 462.1 L2233.7 460.9 L2235.3 461.5 L2237.0 460.8 L2238.6 461.3 L2240.3 463.0 L2241.9 462.3 L2243.5 462.4 L2245.2 462.7 L2246.8 463.0 L2248.5 462.3 L2250.1 462.3 L2251.8 462.3 L2253.4 462.5 L2255.0 462.2 L2256.7 462.4 L2257.2 462.0 L2258.3 461.3 L2260.0 462.5 L2261.6 462.1 L2263.3 462.8 L2264.9 461.3 L2266.5 461.6 L2268.2 461.3 L2269.8 463.1 L2271.5 463.5 L2273.1 462.9 L2274.8 462.3 L2276.4 463.5 L2278.0 463.4 L2279.7 462.9 L2281.3 462.3 L2283.0 462.4 L2284.6 462.8 L2286.3 462.6 L2287.9 462.9 L2288.4 463.1 L2289.5 463.5 L2291.2 464.2 L2292.8 462.2 L2294.5 463.4 L2296.1 462.2 L2297.8 462.5 L2299.4 464.2 L2301.0 463.6 L2302.7 464.5 L2304.3 463.4 L2306.0 462.4 L2307.6 463.4 L2309.3 463.9 L2310.9 464.8 L2312.5 465.0 L2314.2 463.8 L2315.8 463.7 L2317.5 463.0 L2319.1 464.3 L2319.6 464.0 L2320.8 463.4 L2322.4 463.3 L2324.0 463.0 L2325.7 463.0 L2327.3 464.7 L2329.0 463.4 L2330.6 465.5 L2332.3 463.5 L2333.9 465.4 L2335.6 463.7 L2337.2 463.5 L2338.8 465.2 L2340.5 464.1 L2342.1 465.4 L2343.8 464.1 L2345.4 463.8 L2347.1 465.6 L2348.7 465.5 L2350.3 465.9 L2350.8 465.1 L2352.0 465.7 L2353.6 464.1 L2355.3 465.5 L2356.9 465.7 L2358.6 465.1 L2360.2 466.3 L2361.8 464.7 L2363.5 466.4 L2365.1 465.9 L2366.8 464.2 L2368.4 464.2 L2370.1 465.8 L2371.7 466.2 L2373.3 464.5 L2375.0 465.0 L2376.6 466.1 L2378.3 464.7 L2379.9 466.4 L2381.6 465.6 L2382.0 465.6 L2383.2 464.5 L2384.8 465.3 L2386.5 465.8 L2388.1 465.5 L2389.8 466.0 L2391.4 464.7 L2393.1 466.3 L2394.7 465.3 L2396.3 465.9 L2398.0 465.9 L2399.6 465.4 L2401.3 465.3 L2402.9 466.3 L2404.6 466.7 L2406.2 466.3 L2407.8 465.8 L2409.5 465.1 L2411.1 464.5 L2412.8 466.7 L2413.2 465.6 L2414.4 466.1 L2416.1 466.5 L2417.7 465.4 L2419.3 466.1 L2421.0 467.1 L2422.6 466.8 L2424.3 466.3 L2425.9 465.7 L2427.6 466.0 L2429.2 467.2 L2430.8 466.1 L2432.5 466.9 L2434.1 466.7 L2435.8 467.5 L2437.4 467.4 L2439.0 466.7" fill="none" stroke="#1f77b4" stroke-width="3.8" stroke-linejoin="round" stroke-linecap="square" clip-path="url(#c2)"/><path d="M1422.0 101.3 L1424.5 139.6 L1427.2 185.3 L1429.5 230.0 L1432.1 271.8 L1435.3 297.3 L1438.5 316.4 L1442.3 335.5 L1445.0 343.3 L1446.6 349.3 L1447.1 351.4 L1448.3 354.0 L1449.9 358.3 L1451.6 362.7 L1453.2 365.9 L1454.9 366.8 L1456.5 371.5 L1458.1 374.4 L1459.8 377.3 L1461.4 379.5 L1463.1 381.6 L1464.6 384.8 L1466.4 387.3 L1468.0 388.7 L1469.6 390.9 L1470.9 391.2 L1471.3 391.2 L1472.9 392.2 L1474.6 394.9 L1476.2 397.2 L1477.3 397.5 L1477.9 397.2 L1479.5 399.8 L1481.2 401.4 L1482.8 401.0 L1483.7 402.3 L1484.4 403.0 L1486.1 404.2 L1487.7 404.7 L1489.4 405.0 L1491.0 406.2 L1491.6 407.1 L1492.7 408.3 L1494.3 409.4 L1495.9 409.6 L1497.6 409.7 L1499.2 412.4 L1499.6 411.9 L1500.9 413.2 L1502.5 412.7 L1504.2 414.3 L1505.8 415.8 L1507.4 416.6 L1509.1 416.6 L1510.7 417.3 L1512.4 418.4 L1514.0 418.3 L1515.5 419.8 L1517.3 419.5 L1518.9 421.2 L1520.6 420.9 L1522.2 421.8 L1523.4 422.0 L1523.9 422.0 L1525.5 422.9 L1527.2 422.7 L1528.8 423.1 L1530.4 426.0 L1531.4 425.2 L1532.1 424.9 L1533.7 424.3 L1535.4 425.6 L1537.0 426.1 L1538.0 425.4 L1538.7 425.0 L1540.3 427.2 L1541.9 427.7 L1543.6 429.2 L1545.2 429.1 L1546.9 430.3 L1547.5 431.8 L1548.5 433.0 L1550.2 432.8 L1551.8 431.9 L1553.4 432.2 L1555.1 431.5 L1556.7 432.9 L1557.1 432.2 L1558.4 432.5 L1560.0 434.5 L1561.7 434.7 L1563.3 435.5 L1564.9 436.5 L1566.6 435.5 L1568.2 435.2 L1569.9 435.8 L1571.5 436.0 L1573.2 436.0 L1574.8 436.1 L1576.4 437.6 L1577.8 437.6 L1579.7 437.9 L1581.4 439.4 L1583.0 439.7 L1584.7 438.0 L1586.3 439.6 L1588.0 439.4 L1589.6 439.1 L1590.5 440.2 L1591.2 441.4 L1592.9 440.0 L1594.5 441.0 L1596.2 441.5 L1597.8 442.5 L1599.5 442.1 L1601.1 441.7 L1601.7 442.1 L1602.7 442.2 L1604.4 441.7 L1606.0 444.0 L1607.7 444.3 L1609.3 442.7 L1611.0 442.6 L1612.6 443.4 L1614.2 443.8 L1615.9 445.2 L1617.5 445.3 L1619.2 445.3 L1620.8 443.5 L1622.5 445.4 L1624.1 445.4 L1625.5 445.0 L1627.4 446.3 L1629.0 444.2 L1630.7 444.5 L1632.3 446.0 L1634.0 446.6 L1635.6 446.1 L1637.2 445.3 L1638.3 445.8 L1638.9 446.1 L1640.5 446.8 L1642.2 445.4 L1643.8 446.2 L1645.5 446.3 L1647.1 446.2 L1648.7 447.3 L1650.4 446.8 L1651.0 447.7 L1652.0 447.2 L1653.7 447.3 L1655.3 448.8 L1657.0 447.5 L1658.6 449.5 L1660.2 448.5 L1661.9 448.4 L1663.5 450.8 L1665.2 449.4 L1666.8 451.3 L1668.5 451.3 L1670.1 451.5 L1671.7 449.8 L1673.4 450.7 L1675.0 450.0 L1676.7 452.2 L1678.1 451.3 L1680.0 451.4 L1681.6 450.7 L1683.2 450.3 L1684.9 451.2 L1686.5 450.2 L1687.6 450.1 L1688.2 450.5 L1689.8 449.7 L1691.5 450.2 L1693.1 450.1 L1694.8 452.0 L1696.4 451.9 L1698.0 451.2 L1699.7 453.3 L1700.4 452.5 L1701.3 452.0 L1703.0 452.6 L1704.6 452.1 L1706.3 452.6 L1707.9 454.1 L1709.5 453.1 L1711.2 452.8 L1712.8 453.8 L1714.5 453.5 L1716.1 454.9 L1717.8 453.0 L1719.4 455.0 L1721.0 452.7 L1722.7 454.7 L1724.3 454.1 L1726.0 453.0 L1727.5 453.6 L1729.3 453.4 L1730.9 453.7 L1732.5 453.9 L1734.2 454.6 L1735.8 456.4 L1737.5 456.8 L1739.1 456.9 L1740.2 456.1 L1740.8 455.2 L1742.4 455.7 L1744.0 457.3 L1745.7 455.3 L1747.3 457.0 L1749.0 456.1 L1750.6 457.8 L1752.3 455.6 L1752.9 456.8 L1753.9 457.6 L1755.5 456.5 L1757.2 456.1 L1758.8 455.8 L1760.5 457.8 L1762.1 457.2 L1763.8 456.4 L1765.4 457.0 L1767.0 458.3 L1768.7 456.7 L1770.3 457.7 L1772.0 456.7 L1773.6 456.9 L1775.3 458.5 L1776.9 458.4 L1778.4 458.0 L1780.2 457.0 L1781.8 457.1 L1783.5 458.4 L1785.1 458.1 L1786.8 457.7 L1788.4 457.5 L1790.0 458.5 L1791.7 458.8 L1793.3 459.1 L1795.0 458.6 L1796.6 457.7 L1798.3 457.4 L1799.9 459.1 L1801.6 458.3 L1803.2 459.1 L1804.0 458.6 L1804.8 457.6 L1806.5 459.5 L1808.1 458.5 L1809.8 459.8 L1811.4 460.0 L1813.1 459.2 L1814.7 458.2 L1816.3 460.4 L1818.0 459.5 L1819.6 460.5 L1821.3 459.2 L1822.9 459.1 L1824.6 460.8 L1826.2 459.8 L1827.8 459.4 L1829.5 460.0 L1831.1 460.6 L1832.8 459.2 L1834.4 460.6 L1836.1 460.5 L1837.7 460.7 L1839.3 459.9 L1841.0 461.4 L1842.6 461.7 L1844.3 461.9 L1845.9 460.7 L1847.6 461.7 L1849.2 461.0 L1850.8 461.9 L1852.0 461.4 L1852.5 460.3 L1854.1 462.2 L1855.8 462.4 L1857.4 461.3 L1859.1 461.3 L1860.7 461.3 L1862.3 461.2 L1864.0 459.9 L1865.6 462.2 L1867.3 460.4 L1868.9 460.2 L1870.6 460.0 L1872.2 460.3 L1873.8 461.6 L1875.5 459.7 L1876.0 460.8 L1877.1 460.0 L1878.8 461.8 L1880.4 460.9 L1882.1 460.8 L1883.7 462.5 L1885.3 462.7 L1887.0 462.9 L1888.0 463.0 L1888.6 463.5 L1890.3 462.1 L1891.9 464.0 L1893.6 463.7 L1895.2 462.1 L1896.8 462.4 L1898.5 463.3 L1900.1 463.4 L1901.8 462.9 L1903.4 462.6 L1905.1 463.3 L1906.7 462.8 L1908.4 463.9 L1910.0 464.6 L1911.6 462.9 L1912.0 463.8 L1913.3 464.0 L1914.9 464.4 L1916.6 463.1 L1918.2 464.7 L1919.9 465.0 L1921.5 463.7 L1923.1 463.8 L1924.8 464.8 L1926.4 464.1 L1928.1 463.8 L1929.7 465.2 L1931.4 464.8 L1933.0 463.8 L1934.6 463.6 L1936.0 464.2 L1937.9 464.1 L1939.6 465.5 L1941.2 465.1 L1942.9 465.4 L1944.5 465.2 L1946.1 465.4 L1947.8 463.5 L1949.4 464.7 L1951.1 465.8 L1952.7 465.8 L1954.4 464.2 L1956.0 464.7 L1957.6 465.2 L1959.3 464.7 L1960.0 465.0 L1960.9 465.1 L1962.6 464.2 L1964.2 465.2 L1965.9 465.5 L1967.5 464.4 L1969.1 464.8 L1970.8 466.9 L1972.4 466.6 L1974.1 467.1 L1975.7 466.5 L1977.4 467.0 L1979.0 467.3 L1980.6 467.5 L1982.3 465.6 L1983.9 467.1 L1985.6 466.2 L1987.2 467.2 L1988.9 466.3 L1990.5 466.9 L1992.1 467.8 L1993.8 467.1 L1995.4 466.2 L1997.1 466.8 L1998.7 466.6 L2000.4 467.9 L2002.0 466.3 L2003.6 466.3 L2005.3 467.2 L2006.9 465.9 L2008.0 466.8 L2008.6 467.0 L2010.2 467.9 L2011.9 466.9 L2013.5 466.3 L2015.2 466.8 L2016.8 467.0 L2018.4 466.0 L2020.1 466.0 L2021.7 466.0 L2023.4 466.4 L2025.0 466.7 L2026.7 466.4 L2028.3 466.4 L2029.9 466.0 L2031.6 467.1 L2032.0 467.0 L2033.2 467.9 L2034.9 467.4 L2036.5 467.4 L2038.2 467.6 L2039.8 466.6 L2041.4 467.9 L2043.1 467.4 L2044.7 467.6 L2046.4 467.9 L2048.0 467.6 L2049.7 467.3 L2051.3 467.2 L2052.9 467.2 L2054.6 468.0 L2056.0 468.0 L2057.9 468.3 L2059.5 466.9 L2061.2 467.8 L2062.8 469.0 L2064.4 467.6 L2066.1 468.4 L2067.7 468.3 L2069.4 467.8 L2071.0 469.5 L2072.7 467.9 L2074.3 469.1 L2075.9 467.7 L2077.6 467.5 L2079.2 469.5 L2080.0 468.6 L2080.9 468.5 L2082.5 467.6 L2084.2 468.5 L2085.8 468.6 L2087.4 469.4 L2089.1 468.0 L2090.7 468.3 L2092.4 470.1 L2094.0 469.6 L2095.7 468.3 L2097.3 468.8 L2098.9 468.9 L2100.6 469.7 L2101.2 469.3 L2102.2 469.6 L2103.9 470.1 L2105.5 470.0 L2107.2 469.2 L2108.8 469.7 L2110.4 469.7 L2112.1 469.7 L2113.7 469.0 L2115.4 469.7 L2117.0 469.5 L2118.7 470.0 L2120.3 468.0 L2122.0 469.8 L2123.6 467.7 L2125.2 469.5 L2126.9 469.0 L2128.5 468.8 L2130.2 469.9 L2131.8 468.9 L2132.4 468.7 L2133.5 468.6 L2135.1 469.6 L2136.7 469.9 L2138.4 469.4 L2140.0 468.9 L2141.7 469.2 L2143.3 469.4 L2145.0 470.1 L2146.6 469.2 L2148.2 469.6 L2149.9 470.1 L2151.5 469.8 L2153.2 469.7 L2154.8 471.0 L2156.5 471.2 L2158.1 470.5 L2159.7 470.5 L2161.4 470.0 L2163.0 470.4 L2163.6 470.9 L2164.7 470.1 L2166.3 471.1 L2168.0 471.2 L2169.6 470.0 L2171.2 472.0 L2172.9 470.6 L2174.5 471.9 L2176.2 471.9 L2177.8 472.2 L2179.5 470.4 L2181.1 470.9 L2182.7 472.1 L2184.4 470.0 L2186.0 470.1 L2187.7 471.4 L2189.3 471.2 L2191.0 472.3 L2192.6 471.9 L2194.2 471.4 L2194.8 471.3 L2195.9 472.5 L2197.5 471.4 L2199.2 471.5 L2200.8 472.0 L2202.5 471.3 L2204.1 471.3 L2205.7 471.9 L2207.4 471.4 L2209.0 472.9 L2210.7 472.3 L2212.3 472.0 L2214.0 471.0 L2215.6 471.7 L2217.2 471.9 L2218.9 472.3 L2220.5 472.4 L2222.2 473.2 L2223.8 473.4 L2225.5 472.3 L2226.0 472.4 L2227.1 472.2 L2228.8 472.6 L2230.4 473.5 L2232.0 471.9 L2233.7 472.3 L2235.3 473.0 L2237.0 471.4 L2238.6 471.7 L2240.3 473.3 L2241.9 472.9 L2243.5 472.1 L2245.2 471.1 L2246.8 472.9 L2248.5 472.4 L2250.1 472.7 L2251.8 473.1 L2253.4 472.8 L2255.0 471.7 L2256.7 471.0 L2257.2 471.8 L2258.3 471.4 L2260.0 472.0 L2261.6 472.1 L2263.3 471.4 L2264.9 471.5 L2266.5 472.7 L2268.2 472.7 L2269.8 472.2 L2271.5 473.9 L2273.1 473.1 L2274.8 471.8 L2276.4 472.8 L2278.0 473.8 L2279.7 472.7 L2281.3 473.7 L2283.0 472.2 L2284.6 473.0 L2286.3 474.4 L2287.9 473.9 L2288.4 473.7 L2289.5 474.1 L2291.2 473.0 L2292.8 473.8 L2294.5 474.0 L2296.1 473.3 L2297.8 474.3 L2299.4 474.1 L2301.0 475.2 L2302.7 474.2 L2304.3 473.9 L2306.0 473.2 L2307.6 473.4 L2309.3 474.9 L2310.9 473.3 L2312.5 473.4 L2314.2 473.6 L2315.8 474.5 L2317.5 475.2 L2319.1 474.8 L2319.6 474.5 L2320.8 475.2 L2322.4 473.4 L2324.0 473.3 L2325.7 475.1 L2327.3 474.1 L2329.0 475.0 L2330.6 474.1 L2332.3 473.7 L2333.9 473.9 L2335.6 473.5 L2337.2 475.5 L2338.8 474.7 L2340.5 474.1 L2342.1 474.4 L2343.8 474.2 L2345.4 473.4 L2347.1 475.4 L2348.7 474.7 L2350.3 475.6 L2350.8 474.5 L2352.0 474.4 L2353.6 474.9 L2355.3 474.0 L2356.9 473.5 L2358.6 475.7 L2360.2 475.6 L2361.8 474.3 L2363.5 475.7 L2365.1 475.6 L2366.8 474.4 L2368.4 475.1 L2370.1 476.0 L2371.7 475.0 L2373.3 476.1 L2375.0 474.4 L2376.6 474.8 L2378.3 475.6 L2379.9 474.5 L2381.6 474.7 L2382.0 475.2 L2383.2 476.1 L2384.8 475.1 L2386.5 475.9 L2388.1 474.5 L2389.8 474.3 L2391.4 474.8 L2393.1 474.3 L2394.7 476.2 L2396.3 474.5 L2398.0 475.2 L2399.6 474.1 L2401.3 475.1 L2402.9 474.7 L2404.6 474.7 L2406.2 473.9 L2407.8 474.9" fill="none" stroke="#ff7f0e" stroke-width="3.8" stroke-linejoin="round" stroke-linecap="square" clip-path="url(#c2)"/><rect x="129.00" y="10.00" width="1068.00" height="513.50" fill="none" stroke="#000" stroke-width="1.10"/><line x1="129.00" y1="523.50" x2="129.00" y2="528.10" stroke="#000" stroke-width="1.10"/><line x1="293.31" y1="523.50" x2="293.31" y2="528.10" stroke="#000" stroke-width="1.10"/><line x1="457.62" y1="523.50" x2="457.62" y2="528.10" stroke="#000" stroke-width="1.10"/><line x1="621.92" y1="523.50" x2="621.92" y2="528.10" stroke="#000" stroke-width="1.10"/><line x1="786.23" y1="523.50" x2="786.23" y2="528.10" stroke="#000" stroke-width="1.10"/><line x1="950.54" y1="523.50" x2="950.54" y2="528.10" stroke="#000" stroke-width="1.10"/><line x1="1114.85" y1="523.50" x2="1114.85" y2="528.10" stroke="#000" stroke-width="1.10"/><line x1="124.40" y1="523.50" x2="129.00" y2="523.50" stroke="#000" stroke-width="1.10"/><line x1="124.40" y1="420.80" x2="129.00" y2="420.80" stroke="#000" stroke-width="1.10"/><line x1="124.40" y1="318.10" x2="129.00" y2="318.10" stroke="#000" stroke-width="1.10"/><line x1="124.40" y1="215.40" x2="129.00" y2="215.40" stroke="#000" stroke-width="1.10"/><line x1="124.40" y1="112.70" x2="129.00" y2="112.70" stroke="#000" stroke-width="1.10"/><rect x="1422.00" y="16.00" width="1068.00" height="513.00" fill="none" stroke="#000" stroke-width="1.10"/><line x1="1422.00" y1="529.00" x2="1422.00" y2="533.60" stroke="#000" stroke-width="1.10"/><line x1="1586.31" y1="529.00" x2="1586.31" y2="533.60" stroke="#000" stroke-width="1.10"/><line x1="1750.62" y1="529.00" x2="1750.62" y2="533.60" stroke="#000" stroke-width="1.10"/><line x1="1914.92" y1="529.00" x2="1914.92" y2="533.60" stroke="#000" stroke-width="1.10"/><line x1="2079.23" y1="529.00" x2="2079.23" y2="533.60" stroke="#000" stroke-width="1.10"/><line x1="2243.54" y1="529.00" x2="2243.54" y2="533.60" stroke="#000" stroke-width="1.10"/><line x1="2407.85" y1="529.00" x2="2407.85" y2="533.60" stroke="#000" stroke-width="1.10"/><line x1="1417.40" y1="529.00" x2="1422.00" y2="529.00" stroke="#000" stroke-width="1.10"/><line x1="1417.40" y1="426.40" x2="1422.00" y2="426.40" stroke="#000" stroke-width="1.10"/><line x1="1417.40" y1="323.80" x2="1422.00" y2="323.80" stroke="#000" stroke-width="1.10"/><line x1="1417.40" y1="221.20" x2="1422.00" y2="221.20" stroke="#000" stroke-width="1.10"/><line x1="1417.40" y1="118.60" x2="1422.00" y2="118.60" stroke="#000" stroke-width="1.10"/>
<g class="t" font-size="41.7"><text transform="translate(65.35 537.35) scale(0.966 1.000)" x="-11.61" stroke-width="0.450">0</text><text transform="translate(82.29 537.35) scale(0.994 0.885)" x="-5.80" stroke-width="0.450">.</text><text transform="translate(109.35 537.35) scale(0.904 1.000)" x="-11.48" stroke-width="0.450">3</text><text transform="translate(65.35 434.65) scale(0.966 1.000)" x="-11.61" stroke-width="0.450">0</text><text transform="translate(82.29 434.65) scale(0.994 0.885)" x="-5.80" stroke-width="0.450">.</text><text transform="translate(109.35 434.65) scale(0.898 1.000)" x="-11.47" stroke-width="0.450">4</text><text transform="translate(65.35 331.95) scale(0.966 1.000)" x="-11.61" stroke-width="0.450">0</text><text transform="translate(82.29 331.95) scale(0.994 0.885)" x="-5.80" stroke-width="0.450">.</text><text transform="translate(109.35 331.95) scale(0.889 1.000)" x="-11.57" stroke-width="0.450">5</text><text transform="translate(65.35 229.25) scale(0.966 1.000)" x="-11.61" stroke-width="0.450">0</text><text transform="translate(82.29 229.25) scale(0.994 0.885)" x="-5.80" stroke-width="0.450">.</text><text transform="translate(109.35 229.25) scale(0.929 1.000)" x="-11.75" stroke-width="0.450">6</text><text transform="translate(65.35 126.55) scale(0.966 1.000)" x="-11.61" stroke-width="0.450">0</text><text transform="translate(82.29 126.55) scale(0.994 0.885)" x="-5.80" stroke-width="0.450">.</text><text transform="translate(109.35 128.63) scale(0.986 0.983)" x="-10.42" stroke-width="0.450" style="font-family:IPAGothic,sans-serif">7</text><text transform="translate(1336.40 542.85) scale(0.966 1.000)" x="-11.61" stroke-width="0.450">0</text><text transform="translate(1353.34 542.85) scale(0.994 0.885)" x="-5.80" stroke-width="0.450">.</text><text transform="translate(1380.40 542.85) scale(0.966 1.000)" x="-11.61" stroke-width="0.450">0</text><text transform="translate(1402.40 542.85) scale(0.966 1.000)" x="-11.61" stroke-width="0.450">0</text><text transform="translate(1336.40 440.25) scale(0.966 1.000)" x="-11.61" stroke-width="0.450">0</text><text transform="translate(1353.34 440.25) scale(0.994 0.885)" x="-5.80" stroke-width="0.450">.</text><text transform="translate(1380.40 440.25) scale(0.966 1.000)" x="-11.61" stroke-width="0.450">0</text><text transform="translate(1402.40 440.25) scale(0.889 1.000)" x="-11.57" stroke-width="0.450">5</text><text transform="translate(1336.40 337.65) scale(0.966 1.000)" x="-11.61" stroke-width="0.450">0</text><text transform="translate(1353.34 337.65) scale(0.994 0.885)" x="-5.80" stroke-width="0.450">.</text><text transform="translate(1380.40 339.73) scale(1.162 0.983)" x="-8.84" stroke-width="0.450" style="font-family:IPAGothic,sans-serif">1</text><text transform="translate(1402.40 337.65) scale(0.966 1.000)" x="-11.61" stroke-width="0.450">0</text><text transform="translate(1336.40 235.05) scale(0.966 1.000)" x="-11.61" stroke-width="0.450">0</text><text transform="translate(1353.34 235.05) scale(0.994 0.885)" x="-5.80" stroke-width="0.450">.</text><text transform="translate(1380.40 237.13) scale(1.162 0.983)" x="-8.84" stroke-width="0.450" style="font-family:IPAGothic,sans-serif">1</text><text transform="translate(1402.40 235.05) scale(0.889 1.000)" x="-11.57" stroke-width="0.450">5</text><text transform="translate(1336.40 132.45) scale(0.966 1.000)" x="-11.61" stroke-width="0.450">0</text><text transform="translate(1353.34 132.45) scale(0.994 0.885)" x="-5.80" stroke-width="0.450">.</text><text transform="translate(1380.40 132.45) scale(0.889 1.000)" x="-11.61" stroke-width="0.450">2</text><text transform="translate(1402.40 132.45) scale(0.966 1.000)" x="-11.61" stroke-width="0.450">0</text><text transform="translate(129.00 561.10) scale(0.966 1.000)" x="-11.61" stroke-width="0.450">0</text><text transform="translate(1422.00 566.60) scale(0.966 1.000)" x="-11.61" stroke-width="0.450">0</text><text transform="translate(271.31 563.18) scale(1.162 0.983)" x="-8.84" stroke-width="0.450" style="font-family:IPAGothic,sans-serif">1</text><text transform="translate(293.31 561.10) scale(0.966 1.000)" x="-11.61" stroke-width="0.450">0</text><text transform="translate(315.31 561.10) scale(0.966 1.000)" x="-11.61" stroke-width="0.450">0</text><text transform="translate(1564.31 568.68) scale(1.162 0.983)" x="-8.84" stroke-width="0.450" style="font-family:IPAGothic,sans-serif">1</text><text transform="translate(1586.31 566.60) scale(0.966 1.000)" x="-11.61" stroke-width="0.450">0</text><text transform="translate(1608.31 566.60) scale(0.966 1.000)" x="-11.61" stroke-width="0.450">0</text><text transform="translate(435.62 561.10) scale(0.889 1.000)" x="-11.61" stroke-width="0.450">2</text><text transform="translate(457.62 561.10) scale(0.966 1.000)" x="-11.61" stroke-width="0.450">0</text><text transform="translate(479.62 561.10) scale(0.966 1.000)" x="-11.61" stroke-width="0.450">0</text><text transform="translate(1728.62 566.60) scale(0.889 1.000)" x="-11.61" stroke-width="0.450">2</text><text transform="translate(1750.62 566.60) scale(0.966 1.000)" x="-11.61" stroke-width="0.450">0</text><text transform="translate(1772.62 566.60) scale(0.966 1.000)" x="-11.61" stroke-width="0.450">0</text><text transform="translate(599.92 561.10) scale(0.904 1.000)" x="-11.48" stroke-width="0.450">3</text><text transform="translate(621.92 561.10) scale(0.966 1.000)" x="-11.61" stroke-width="0.450">0</text><text transform="translate(643.92 561.10) scale(0.966 1.000)" x="-11.61" stroke-width="0.450">0</text><text transform="translate(1892.92 566.60) scale(0.904 1.000)" x="-11.48" stroke-width="0.450">3</text><text transform="translate(1914.92 566.60) scale(0.966 1.000)" x="-11.61" stroke-width="0.450">0</text><text transform="translate(1936.92 566.60) scale(0.966 1.000)" x="-11.61" stroke-width="0.450">0</text><text transform="translate(764.23 561.10) scale(0.898 1.000)" x="-11.47" stroke-width="0.450">4</text><text transform="translate(786.23 561.10) scale(0.966 1.000)" x="-11.61" stroke-width="0.450">0</text><text transform="translate(808.23 561.10) scale(0.966 1.000)" x="-11.61" stroke-width="0.450">0</text><text transform="translate(2057.23 566.60) scale(0.898 1.000)" x="-11.47" stroke-width="0.450">4</text><text transform="translate(2079.23 566.60) scale(0.966 1.000)" x="-11.61" stroke-width="0.450">0</text><text transform="translate(2101.23 566.60) scale(0.966 1.000)" x="-11.61" stroke-width="0.450">0</text><text transform="translate(928.54 561.10) scale(0.889 1.000)" x="-11.57" stroke-width="0.450">5</text><text transform="translate(950.54 561.10) scale(0.966 1.000)" x="-11.61" stroke-width="0.450">0</text><text transform="translate(972.54 561.10) scale(0.966 1.000)" x="-11.61" stroke-width="0.450">0</text><text transform="translate(2221.54 566.60) scale(0.889 1.000)" x="-11.57" stroke-width="0.450">5</text><text transform="translate(2243.54 566.60) scale(0.966 1.000)" x="-11.61" stroke-width="0.450">0</text><text transform="translate(2265.54 566.60) scale(0.966 1.000)" x="-11.61" stroke-width="0.450">0</text><text transform="translate(1092.85 561.10) scale(0.929 1.000)" x="-11.75" stroke-width="0.450">6</text><text transform="translate(1114.85 561.10) scale(0.966 1.000)" x="-11.61" stroke-width="0.450">0</text><text transform="translate(1136.85 561.10) scale(0.966 1.000)" x="-11.61" stroke-width="0.450">0</text><text transform="translate(2385.85 566.60) scale(0.929 1.000)" x="-11.75" stroke-width="0.450">6</text><text transform="translate(2407.85 566.60) scale(0.966 1.000)" x="-11.61" stroke-width="0.450">0</text><text transform="translate(2429.85 566.60) scale(0.966 1.000)" x="-11.61" stroke-width="0.450">0</text></g>
<g class="t" font-size="48.4"><text transform="translate(600.50 605.50) scale(0.905 0.831)" x="-13.41" stroke-width="0.600">e</text><text transform="translate(625.50 605.50) scale(0.921 0.846)" x="-14.00" stroke-width="0.600">p</text><text transform="translate(650.50 605.50) scale(0.895 0.831)" x="-13.46" stroke-width="0.600">o</text><text transform="translate(675.50 605.50) scale(0.932 0.831)" x="-12.49" stroke-width="0.600">c</text><text transform="translate(700.50 605.50) scale(0.928 0.945)" x="-13.56" stroke-width="0.600">h</text><text transform="translate(725.50 605.50) scale(0.871 0.831)" x="-11.90" stroke-width="0.600">s</text><text transform="translate(1893.50 610.70) scale(0.905 0.831)" x="-13.41" stroke-width="0.600">e</text><text transform="translate(1918.50 610.70) scale(0.921 0.846)" x="-14.00" stroke-width="0.600">p</text><text transform="translate(1943.50 610.70) scale(0.895 0.831)" x="-13.46" stroke-width="0.600">o</text><text transform="translate(1968.50 610.70) scale(0.932 0.831)" x="-12.49" stroke-width="0.600">c</text><text transform="translate(1993.50 610.70) scale(0.928 0.945)" x="-13.56" stroke-width="0.600">h</text><text transform="translate(2018.50 610.70) scale(0.871 0.831)" x="-11.90" stroke-width="0.600">s</text><g transform="rotate(-90)"><text transform="translate(-404.55 42.40) scale(0.722 0.846)" x="-20.17" stroke-width="0.600">m</text><text transform="translate(-379.55 42.40) scale(0.765 1.000)" x="-16.14" stroke-width="0.600">A</text><text transform="translate(-354.55 42.40) scale(0.774 1.000)" x="-16.85" stroke-width="0.600">P</text><text transform="translate(-304.55 42.40) scale(0.893 1.000)" x="-13.46" stroke-width="0.600">0</text><text transform="translate(-285.30 42.40) scale(0.825 0.734)" x="-6.72" stroke-width="0.600">.</text><text transform="translate(-254.55 42.40) scale(0.837 1.000)" x="-13.41" stroke-width="0.600">5</text><text transform="translate(-229.55 42.40) scale(0.868 0.864)" x="-6.72" stroke-width="0.600">:</text><text transform="translate(-204.55 42.40) scale(0.893 1.000)" x="-13.46" stroke-width="0.600">0</text><text transform="translate(-185.30 42.40) scale(0.825 0.734)" x="-6.72" stroke-width="0.600">.</text><text transform="translate(-154.55 42.40) scale(0.906 1.000)" x="-13.45" stroke-width="0.600">9</text><text transform="translate(-129.55 42.40) scale(0.837 1.000)" x="-13.41" stroke-width="0.600">5</text></g><g transform="rotate(-90)"><text transform="translate(-310.40 1313.20) scale(0.934 1.000)" x="-14.64" stroke-width="0.600">L</text><text transform="translate(-285.40 1313.20) scale(0.895 0.831)" x="-13.46" stroke-width="0.600">o</text><text transform="translate(-260.40 1313.20) scale(0.871 0.831)" x="-11.90" stroke-width="0.600">s</text><text transform="translate(-235.40 1313.20) scale(0.871 0.831)" x="-11.90" stroke-width="0.600">s</text></g></g>
<rect x="818.30" y="351.20" width="353.10" height="147.30" rx="9.5" ry="9.5" fill="#fff" fill-opacity="0.8" stroke="#cccccc" stroke-opacity="0.8" stroke-width="1.2"/><line x1="836.10" y1="388.30" x2="939.30" y2="388.30" stroke="#1f77b4" stroke-width="3.80" stroke-linecap="butt"/><line x1="836.10" y1="454.50" x2="939.30" y2="454.50" stroke="#ff7f0e" stroke-width="3.80" stroke-linecap="butt"/><rect x="2111.40" y="41.40" width="353.40" height="146.40" rx="9.5" ry="9.5" fill="#fff" fill-opacity="0.8" stroke="#cccccc" stroke-opacity="0.8" stroke-width="1.2"/><line x1="2129.20" y1="78.20" x2="2232.10" y2="78.20" stroke="#1f77b4" stroke-width="3.80" stroke-linecap="butt"/><line x1="2129.20" y1="144.50" x2="2232.10" y2="144.50" stroke="#ff7f0e" stroke-width="3.80" stroke-linecap="butt"/>
<g class="t" font-size="48.4"><text transform="translate(989.70 404.80) scale(0.725 1.000)" x="-16.14" stroke-width="0.600">Y</text><text transform="translate(1014.70 404.80) scale(0.651 1.000)" x="-18.81" stroke-width="0.600">O</text><text transform="translate(1039.70 404.80) scale(0.934 1.000)" x="-14.64" stroke-width="0.600">L</text><text transform="translate(1064.70 404.80) scale(0.651 1.000)" x="-18.81" stroke-width="0.600">O</text><text transform="translate(1089.70 404.80) scale(0.826 0.846)" x="-12.10" stroke-width="0.600">v</text><text transform="translate(1114.70 404.80) scale(0.837 1.000)" x="-13.41" stroke-width="0.600">5</text><text transform="translate(1139.70 404.80) scale(0.871 0.831)" x="-11.90" stroke-width="0.600">s</text><text transform="translate(990.10 471.00) scale(0.759 1.000)" x="-18.30" stroke-width="0.600">D</text><text transform="translate(1015.10 471.00) scale(0.755 1.000)" x="-16.13" stroke-width="0.600">S</text><text transform="translate(1040.10 461.80) scale(1.946 0.620)" x="-8.06" stroke-width="0.600">-</text><text transform="translate(1065.10 471.00) scale(0.725 1.000)" x="-16.14" stroke-width="0.600">Y</text><text transform="translate(1090.10 471.00) scale(0.651 1.000)" x="-18.81" stroke-width="0.600">O</text><text transform="translate(1115.10 471.00) scale(0.934 1.000)" x="-14.64" stroke-width="0.600">L</text><text transform="translate(1140.10 471.00) scale(0.651 1.000)" x="-18.81" stroke-width="0.600">O</text><text transform="translate(2282.90 94.70) scale(0.725 1.000)" x="-16.14" stroke-width="0.600">Y</text><text transform="translate(2307.90 94.70) scale(0.651 1.000)" x="-18.81" stroke-width="0.600">O</text><text transform="translate(2332.90 94.70) scale(0.934 1.000)" x="-14.64" stroke-width="0.600">L</text><text transform="translate(2357.90 94.70) scale(0.651 1.000)" x="-18.81" stroke-width="0.600">O</text><text transform="translate(2382.90 94.70) scale(0.826 0.846)" x="-12.10" stroke-width="0.600">v</text><text transform="translate(2407.90 94.70) scale(0.837 1.000)" x="-13.41" stroke-width="0.600">5</text><text transform="translate(2432.90 94.70) scale(0.871 0.831)" x="-11.90" stroke-width="0.600">s</text><text transform="translate(2283.30 161.50) scale(0.759 1.000)" x="-18.30" stroke-width="0.600">D</text><text transform="translate(2308.30 161.50) scale(0.755 1.000)" x="-16.13" stroke-width="0.600">S</text><text transform="translate(2333.30 152.30) scale(1.946 0.620)" x="-8.06" stroke-width="0.600">-</text><text transform="translate(2358.30 161.50) scale(0.725 1.000)" x="-16.14" stroke-width="0.600">Y</text><text transform="translate(2383.30 161.50) scale(0.651 1.000)" x="-18.81" stroke-width="0.600">O</text><text transform="translate(2408.30 161.50) scale(0.934 1.000)" x="-14.64" stroke-width="0.600">L</text><text transform="translate(2433.30 161.50) scale(0.651 1.000)" x="-18.81" stroke-width="0.600">O</text></g>
</svg>
</body></html>
